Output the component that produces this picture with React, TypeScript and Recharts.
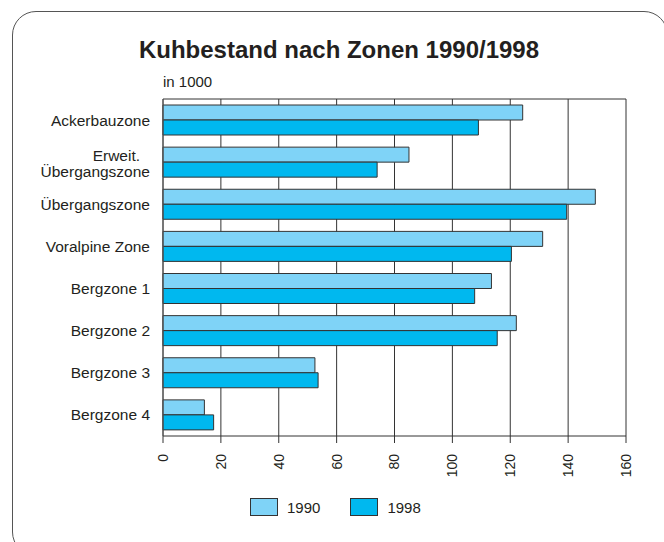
import React from 'react';
import { BarChart, Bar, XAxis, YAxis, CartesianGrid, Legend } from 'recharts';

// Kuhbestand in 1000, read from the source graphic
const zones = [
  'Ackerbauzone',
  'Erweit.\nÜbergangszone',
  'Übergangszone',
  'Voralpine Zone',
  'Bergzone 1',
  'Bergzone 2',
  'Bergzone 3',
  'Bergzone 4',
];
const cows1990 = [124.3, 85, 149.4, 131.2, 113.5, 122.1, 52.5, 14.3];
const cows1998 = [109, 74, 139.5, 120.4, 107.7, 115.5, 53.6, 17.5];
const xTicks = [0, 20, 40, 60, 80, 100, 120, 140, 160];

const LIGHT = '#7fd3f7';
const DARK = '#00b8ef';
const FONT = '"Liberation Sans", Arial, sans-serif';
const INK = '#231f20';

const data = zones.map((zone, i) => ({
  zone,
  y1990: cows1990[i],
  y1998: cows1998[i],
}));

const ZoneTick = (props: any) => {
  const { x, y, payload } = props;
  const lines = String(payload.value).split('\n');
  if (lines.length === 1) {
    return (
      <text x={x} y={y} dy={5.5} textAnchor="end" fontSize={15.5} fontFamily={FONT} fill={INK}>
        {lines[0]}
      </text>
    );
  }
  return (
    <text textAnchor="end" fontSize={15.5} fontFamily={FONT} fill={INK}>
      <tspan x={x - 10} y={y - 1.5}>{lines[0]}</tspan>
      <tspan x={x} y={y + 14.5}>{lines[1]}</tspan>
    </text>
  );
};

const ValueTick = (props: any) => {
  const { x, y, payload } = props;
  return (
    <text
      x={x}
      y={y}
      dy="0.35em"
      transform={`rotate(-90 ${x} ${y})`}
      textAnchor="end"
      fontSize={14}
      fontFamily={FONT}
      fill={INK}
    >
      {payload.value}
    </text>
  );
};

const LegendBoxes = () => (
  <div style={{ display: 'flex', alignItems: 'center', fontFamily: FONT, fontSize: 15, color: INK }}>
    <span style={{ width: 28, height: 18, boxSizing: 'border-box', border: '1.5px solid #333', background: LIGHT }} />
    <span style={{ marginLeft: 9, marginRight: 30 }}>1990</span>
    <span style={{ width: 28, height: 18, boxSizing: 'border-box', border: '1.5px solid #333', background: DARK }} />
    <span style={{ marginLeft: 9 }}>1998</span>
  </div>
);

export default function App() {
  return (
    <div style={{ position: 'absolute', left: 0, top: 0, width: 664, height: 542, overflow: 'hidden', background: '#fff' }}>
      <div
        style={{
          position: 'absolute',
          left: 12,
          top: 11,
          width: 656,
          height: 545,
          boxSizing: 'border-box',
          border: '1.5px solid #555',
          borderRadius: 24,
        }}
      />
      <svg width={664} height={120} style={{ position: 'absolute', left: 0, top: 0 }}>
        <text x={339} y={58} textAnchor="middle" fontSize={24} fontWeight="bold" fontFamily={FONT} fill={INK}>
          Kuhbestand nach Zonen 1990/1998
        </text>
        <text x={163} y={87} fontSize={15} fontFamily={FONT} fill={INK}>
          in 1000
        </text>
      </svg>
      <div style={{ position: 'absolute', left: 0, top: 0 }}>
        <BarChart
          width={664}
          height={542}
          data={data}
          layout="vertical"
          margin={{ top: 99, right: 38, left: 13, bottom: 66 }}
          barGap={0}
        >
          <CartesianGrid stroke="#333" horizontalPoints={[99]} />
          <XAxis
            type="number"
            domain={[0, 160]}
            ticks={xTicks}
            interval={0}
            height={40}
            tick={<ValueTick />}
            tickSize={7}
            tickMargin={11}
            tickLine={{ stroke: '#333' }}
            axisLine={{ stroke: '#333' }}
          />
          <YAxis
            type="category"
            dataKey="zone"
            width={150}
            tick={<ZoneTick />}
            tickLine={false}
            tickSize={0}
            tickMargin={13}
            axisLine={{ stroke: '#555' }}
            interval={0}
          />
          <Legend
            layout="horizontal"
            verticalAlign="middle"
            align="center"
            content={<LegendBoxes />}
            wrapperStyle={{ left: 250, top: 498, width: 200, height: 20 }}
          />
          <Bar dataKey="y1990" name="1990" fill={LIGHT} stroke="#333" strokeWidth={1} barSize={15} isAnimationActive={false} />
          <Bar dataKey="y1998" name="1998" fill={DARK} stroke="#333" strokeWidth={1} barSize={15} isAnimationActive={false} />
        </BarChart>
      </div>
    </div>
  );
}
